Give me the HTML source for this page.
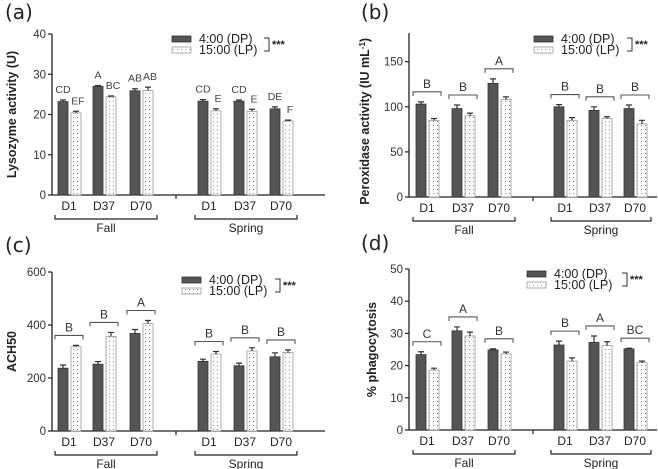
<!DOCTYPE html>
<html><head><meta charset="utf-8">
<style>
html,body{margin:0;padding:0;background:#fff;}
svg{display:block;font-family:"Liberation Sans",sans-serif;}
</style></head>
<body>
<svg id="fig" width="658" height="469" viewBox="0 0 658 469">
<defs>
<pattern id="dots" width="4" height="4" patternUnits="userSpaceOnUse">
<rect width="4" height="4" fill="#fff"/>
<rect x="1" y="1" width="1" height="1" fill="#888"/>
</pattern>
</defs>
</svg>
<script>
const groups = ["D1","D37","D70","D1","D37","D70"];
const seasons = ["Fall","Spring"];
// Panel a
const aDark = [23.2,27.0,25.9,23.3,23.3,21.4];
const aDarkErr = [0.4,0.2,0.5,0.4,0.3,0.5];
const aLight = [20.4,24.4,26.0,20.9,20.8,18.4];
const aLightErr = [0.4,0.2,0.8,0.5,0.5,0.2];
const aDarkLetters = ["CD","A","AB","CD","CD","DE"];
const aLightLetters = ["EF","BC","AB","E","E","F"];
const aTicks = [0,10,20,30,40];
// Panel b
const bDark = [103,98,126,100,96,98];
const bDarkErr = [2.5,4,5,2.5,4,4];
const bLight = [85,90,108,85,87,81];
const bLightErr = [2,3,3,3,2,4];
const bLetters = ["B","B","A","B","B","B"];
const bTicks = [0,50,100,150];
// Panel c
const cDark = [237,252,368,263,246,280];
const cDarkErr = [12,10,15,8,10,15];
const cLight = [318,357,405,290,302,296];
const cLightErr = [5,15,12,10,12,10];
const cLetters = ["B","B","A","B","B","B"];
const cTicks = [0,200,400,600];
// Panel d
const dDark = [23.4,30.8,24.9,26.4,27.2,25.2];
const dDarkErr = [0.9,1.2,0.3,1.2,2.0,0.2];
const dLight = [18.6,29.2,23.6,21.4,26.2,20.9];
const dLightErr = [0.6,1.2,0.6,1.0,1.2,0.5];
const dLetters = ["C","A","B","B","A","BC"];
const dTicks = [0,10,20,30,40,50];

const svg = document.getElementById('fig');
const NS = "http://www.w3.org/2000/svg";
function mk(tag, attrs, parent, text){
  const e = document.createElementNS(NS, tag);
  for (const k in attrs) e.setAttribute(k, attrs[k]);
  if (text !== undefined) e.textContent = text;
  (parent||svg).appendChild(e);
  return e;
}

function panel(p){
  const g = mk('g', {});
  
  
  const y = v => p.y0 - (v / p.ymax) * (p.y0 - p.yTop);
  const lab = mk('text', {x:p.labX, y:p.labY, 'font-size':20, fill:'#222', 'font-family':'"DejaVu Sans",sans-serif'}, g, '(' + p.id + ')');
  
  
  // y axis
  const ya = mk('line', {x1:p.ax, x2:p.ax, y1:p.axTop, y2:p.y0, stroke:'#222', 'stroke-width':1.3}, g);
  
  
  p.ticks.forEach(t => {
    mk('line', {x1:p.ax-4, x2:p.ax, y1:y(t), y2:y(t), stroke:'#222', 'stroke-width':1.2}, g);
    const tl = mk('text', {x:p.ax-6, y:y(t)+4, 'font-size':11.5, 'text-anchor':'end', fill:'#333'}, g, t);
    
    
  });
  // x axis
  const xa = mk('line', {x1:p.ax, x2:p.axEnd, y1:p.y0, y2:p.y0, stroke:'#222', 'stroke-width':1.3}, g);
  
  
  mk('line', {x1:p.brk, x2:p.brk, y1:p.y0, y2:p.y0+4, stroke:'#222', 'stroke-width':1.2}, g);
  // y title
  const yt = mk('text', {x:0, y:0, 'font-size':12.5, 'font-weight':'bold', 'text-anchor':'middle', fill:'#222', transform:'translate(' + p.titleX + ',' + ((p.yTop + p.y0)/2 + p.titleOff) + ') rotate(-90)'}, g, p.title);
  if (p.sup) { mk('tspan', {'baseline-shift':'super', 'font-size':8}, yt, p.sup); mk('tspan', {}, yt, ')'); }
  
  
  // bars
  p.centers.forEach((cx, i) => {
    const bw = 10;
    const dx = cx - 11, lx = cx + 2;
    const dv = p.dark[i], lv = p.light[i];
    const r1 = mk('rect', {x:dx, y:y(dv), width:bw, height:p.y0 - y(dv), fill:'#555', stroke:'#333', 'stroke-width':0.8}, g);
    
    
    const r2 = mk('rect', {x:lx, y:y(lv), width:bw, height:p.y0 - y(lv), fill:'url(#dots)', stroke:'#999', 'stroke-width':0.8}, g);
    
    
    [[dx+bw/2, dv, p.darkErr[i]], [lx+bw/2, lv, p.lightErr[i]]].forEach(([ex, v, e]) => {
      const eb = mk('path', {d:'M' + ex + ' ' + y(v) + 'V' + y(v+e) + 'M' + (ex-3) + ' ' + y(v+e) + 'H' + (ex+3), stroke:'#333', 'stroke-width':1.2, fill:'none'}, g);
      
      
    });
    if (p.dLetters) {
      const t1 = mk('text', {x:dx+bw/2, y:y(dv+p.darkErr[i]) - 7, 'font-size':10.5, 'text-anchor':'middle', fill:'#444'}, g, p.dLetters[i]);
      
      
      const t2 = mk('text', {x:lx+bw/2+2, y:y(lv+p.lightErr[i]) - 7, 'font-size':10.5, 'text-anchor':'middle', fill:'#444'}, g, p.lLetters[i]);
      
      
    } else {
      const top = Math.min(y(dv + p.darkErr[i]), y(lv + p.lightErr[i])) - 10;
      const br = mk('path', {d:'M' + (cx-14) + ' ' + (top+4) + 'V' + top + 'H' + (cx+14) + 'V' + (top+4), stroke:'#555', 'stroke-width':1.1, fill:'none'}, g);
      
      
      const lt = mk('text', {x:cx, y:top - 4, 'font-size':12, 'text-anchor':'middle', fill:'#333'}, g, p.letters[i]);
      
      
    }
    const xl = mk('text', {x:cx, y:p.y0 + 15, 'font-size':12, 'text-anchor':'middle', fill:'#222'}, g, groups[i]);
    
    
  });
  // season brackets
  [[0,2],[3,5]].forEach(([a,b], k) => {
    const x1 = p.centers[a] - 14, x2 = p.centers[b] + 16, by = p.y0 + 24;
    const sb = mk('path', {d:'M' + x1 + ' ' + (by-4) + 'V' + by + 'H' + x2 + 'V' + (by-4), stroke:'#222', 'stroke-width':1.2, fill:'none'}, g);
    
    
    const st = mk('text', {x:(x1+x2)/2, y:by + 13, 'font-size':12, 'text-anchor':'middle', fill:'#222'}, g, seasons[k]);
    
    
  });
  // legend
  const L = p.leg;
  const lg = mk('g', {}, g);
  
  
  mk('rect', {x:L.x, y:L.y, width:19, height:6, fill:'#555', stroke:'#333', 'stroke-width':0.8}, lg);
  mk('rect', {x:L.x, y:L.y+11, width:19, height:6, fill:'url(#dots)', stroke:'#999', 'stroke-width':0.8}, lg);
  const e1 = mk('text', {x:L.x+27, y:L.y+7, 'font-size':12.5, fill:'#222'}, lg, '4:00 (DP)');
  
  
  const e2 = mk('text', {x:L.x+27, y:L.y+18, 'font-size':12.5, fill:'#222'}, lg, '15:00 (LP)');
  
  
  mk('path', {d:'M' + L.bx + ' ' + (L.y+2) + 'H' + (L.bx+5) + 'V' + (L.y+15) + 'H' + L.bx, stroke:'#333', 'stroke-width':1, fill:'none'}, lg);
  const st = mk('text', {x:L.bx+8, y:L.y+12, 'font-size':11, 'font-weight':'bold', fill:'#222'}, lg, '***');
  
  
}

const leftC = [69,104,141,209,245,281];
const rightC = [427,463,499,565,600,635];
panel({id:'a', labX:5, labY:19, ax:52, axTop:34, axEnd:325, brk:176, yTop:34, y0:195, ymax:40, ticks:aTicks,
  title:'Lysozyme activity (U)', titleX:16, titleOff:0, centers:leftC,
  dark:aDark, darkErr:aDarkErr, light:aLight, lightErr:aLightErr, dLetters:aDarkLetters, lLetters:aLightLetters,
  leg:{x:172, y:36, bx:264}});
panel({id:'b', labX:361, labY:19, ax:409, axTop:33, axEnd:657, brk:533, yTop:61.7, y0:197, ymax:150, ticks:bTicks,
  title:'Peroxidase activity (IU mL', sup:'-1', titleX:369, titleOff:-8, centers:rightC,
  dark:bDark, darkErr:bDarkErr, light:bLight, lightErr:bLightErr, letters:bLetters,
  leg:{x:534, y:36, bx:627}});
panel({id:'c', labX:5, labY:252, ax:52, axTop:272, axEnd:325, brk:176, yTop:272, y0:431, ymax:600, ticks:cTicks,
  title:'ACH50', titleX:16, titleOff:0, centers:leftC,
  dark:cDark, darkErr:cDarkErr, light:cLight, lightErr:cLightErr, letters:cLetters,
  leg:{x:182, y:277, bx:275}});
panel({id:'d', labX:361, labY:250, ax:409, axTop:269, axEnd:657, brk:533, yTop:269, y0:430, ymax:50, ticks:dTicks,
  title:'% phagocytosis', titleX:376, titleOff:0, centers:rightC,
  dark:dDark, darkErr:dDarkErr, light:dLight, lightErr:dLightErr, letters:dLetters,
  leg:{x:527, y:271, bx:622}});
</script>
</body></html>
